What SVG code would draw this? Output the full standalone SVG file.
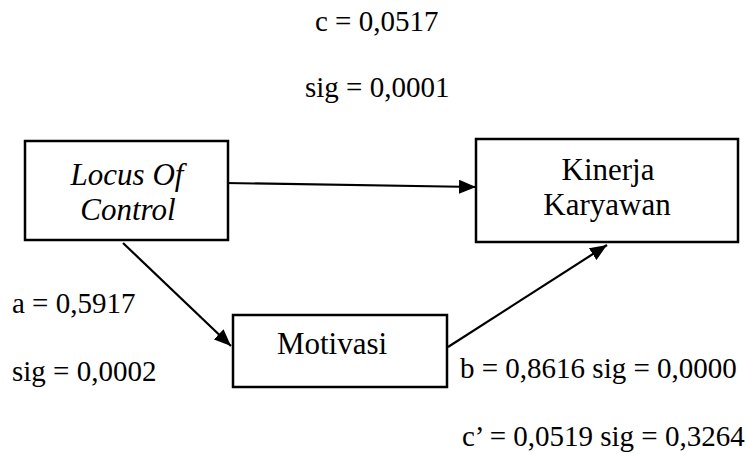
<svg xmlns="http://www.w3.org/2000/svg" width="745" height="454" viewBox="0 0 745 454">
  <style>
    .box { fill: #ffffff; stroke: #000000; stroke-width: 2.5; }
    text { font-family: 'Liberation Serif', 'DejaVu Serif', serif; fill: #000000; }
    .node { font-size: 31px; text-anchor: middle; }
    .ital { font-style: italic; }
    .lbl { font-size: 29px; }
    .edge { stroke: #000000; stroke-width: 2.2; fill: none; marker-end: url(#head); }
  </style>
  <defs>
    <marker id="head" markerUnits="userSpaceOnUse" markerWidth="18" markerHeight="14" refX="17" refY="7" orient="auto">
      <path d="M0,0 L17,7 L0,14 Z" fill="#000000"/>
    </marker>
  </defs>
  <rect width="745" height="454" fill="#ffffff"/>

  <g id="connectors">
    <line class="edge" x1="225" y1="183" x2="476" y2="187"/>
    <line class="edge" x1="123" y1="243" x2="231" y2="346"/>
    <line class="edge" x1="448" y1="347" x2="607" y2="245"/>
  </g>

  <g id="locus-of-control">
    <rect class="box" x="25" y="141" width="203" height="99"/>
    <text class="node ital" x="127" y="185" font-family="Liberation Serif, serif">Locus Of</text>
    <text class="node ital" x="128" y="220" font-family="Liberation Serif, serif">Control</text>
  </g>

  <g id="kinerja-karyawan">
    <rect class="box" x="476" y="139" width="262" height="103"/>
    <text class="node" x="608" y="180" font-family="Liberation Serif, serif">Kinerja</text>
    <text class="node" x="607" y="215" font-family="Liberation Serif, serif">Karyawan</text>
  </g>

  <g id="motivasi">
    <rect class="box" x="233" y="315" width="214" height="72"/>
    <text class="node" x="332" y="354" font-family="Liberation Serif, serif">Motivasi</text>
  </g>

  <g id="labels">
    <text class="lbl" x="315" y="31" font-family="Liberation Serif, serif">c = 0,0517</text>
    <text class="lbl" x="305" y="97" font-family="Liberation Serif, serif">sig = 0,0001</text>
    <text class="lbl" x="12" y="313" font-family="Liberation Serif, serif">a = 0,5917</text>
    <text class="lbl" x="12" y="381" font-family="Liberation Serif, serif">sig = 0,0002</text>
    <text class="lbl" x="460" y="378" font-family="Liberation Serif, serif">b = 0,8616 sig = 0,0000</text>
    <text class="lbl" x="462" y="446" font-family="Liberation Serif, serif">c’ = 0,0519 sig = 0,3264</text>
  </g>
</svg>
